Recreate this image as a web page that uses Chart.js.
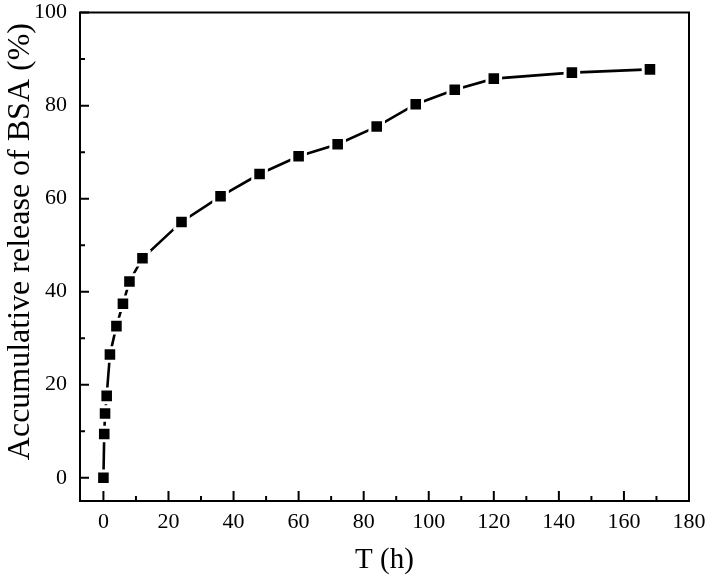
<!DOCTYPE html>
<html>
<head>
<meta charset="utf-8">
<script src="https://cdn.jsdelivr.net/npm/chart.js@4/dist/chart.umd.min.js"></script>
<style>
html,body{margin:0;padding:0;background:#fff;}
#wrap{width:708px;height:578px;}
</style>
</head>
<body>
<div id="wrap"><canvas id="c" width="708" height="578"></canvas></div>
<script>
const timeH = [0, 0.25, 0.5, 1, 2, 4, 6, 8, 12, 24, 36, 48, 60, 72, 84, 96, 108, 120, 144, 168];
const releaseBSA = [0, 9.4, 13.8, 17.6, 26.5, 32.6, 37.4, 42.2, 47.2, 55.0, 60.5, 65.3, 69.1, 71.7, 75.5, 80.3, 83.4, 85.8, 87.1, 87.8];
const xTicks = [0, 20, 40, 60, 80, 100, 120, 140, 160, 180];
const xMinorTicks = [10, 30, 50, 70, 90, 110, 130, 150, 170];
const yTicks = [0, 20, 40, 60, 80, 100];
const yMinorTicks = [10, 30, 50, 70, 90];
const xTitle = 'T (h)';
const yTitle = 'Accumulative release of BSA (%)';

const FONT = "'Liberation Serif', 'Times New Roman', serif";

const frameTicks = {
  id: 'frameTicks',
  afterDraw(chart) {
    const ctx = chart.ctx;
    const a = chart.chartArea;
    const xs = chart.scales.x, ys = chart.scales.y;
    ctx.save();
    ctx.strokeStyle = '#000';
    ctx.lineWidth = 2;
    ctx.lineCap = 'butt';
    ctx.beginPath();
    xTicks.forEach(v => { const p = xs.getPixelForValue(v); ctx.moveTo(p, a.bottom); ctx.lineTo(p, a.bottom - 10); });
    xMinorTicks.forEach(v => { const p = xs.getPixelForValue(v); ctx.moveTo(p, a.bottom); ctx.lineTo(p, a.bottom - 5); });
    yTicks.forEach(v => { const p = ys.getPixelForValue(v); ctx.moveTo(a.left, p); ctx.lineTo(a.left + 9, p); });
    yMinorTicks.forEach(v => { const p = ys.getPixelForValue(v); ctx.moveTo(a.left, p); ctx.lineTo(a.left + 5, p); });
    ctx.stroke();
    ctx.beginPath();
    ctx.rect(a.left, a.top, a.right - a.left, a.bottom - a.top);
    ctx.stroke();
    ctx.restore();
  }
};

new Chart(document.getElementById('c'), {
  type: 'line',
  data: {
    datasets: [{
      data: timeH.map((t, i) => ({x: t, y: releaseBSA[i]})),
      borderColor: '#000',
      borderWidth: 2.6,
      backgroundColor: '#000',
      pointStyle: 'rect',
      pointRadius: 9.6,
      pointBorderWidth: 3,
      pointBorderColor: '#fff',
      pointBackgroundColor: '#000',
      tension: 0
    }]
  },
  options: {
    responsive: false,
    animation: false,
    devicePixelRatio: 1,
    layout: {padding: {top: 10, right: 19, left: 0, bottom: 0}},
    plugins: {legend: {display: false}, tooltip: {enabled: false}},
    scales: {
      x: {
        type: 'linear',
        min: -7.2,
        max: 180,
        afterBuildTicks: s => { s.ticks = xTicks.map(v => ({value: v})); },
        afterFit: s => { s.height = 77; s.paddingLeft = 0; s.paddingRight = 0; },
        grid: {display: false, drawTicks: false},
        border: {display: false},
        ticks: {color: '#000', font: {family: FONT, size: 22}, padding: 8, maxRotation: 0, autoSkip: false},
        title: {display: true, text: xTitle, color: '#000', font: {family: FONT, size: 29}, padding: {top: 0, bottom: 0}}
      },
      y: {
        type: 'linear',
        min: -5,
        max: 100,
        afterBuildTicks: s => { s.ticks = yTicks.map(v => ({value: v})); },
        afterFit: s => { s.width = 80; s.paddingTop = 0; s.paddingBottom = 0; },
        grid: {display: false, drawTicks: false},
        border: {display: false},
        ticks: {color: '#000', font: {family: FONT, size: 22}, padding: 13, autoSkip: false},
        title: {display: true, text: '   \u2009' + yTitle, color: '#000', font: {family: FONT, size: 32}, padding: {top: 1, bottom: 0}}
      }
    }
  },
  plugins: [frameTicks]
});
</script>
</body>
</html>
